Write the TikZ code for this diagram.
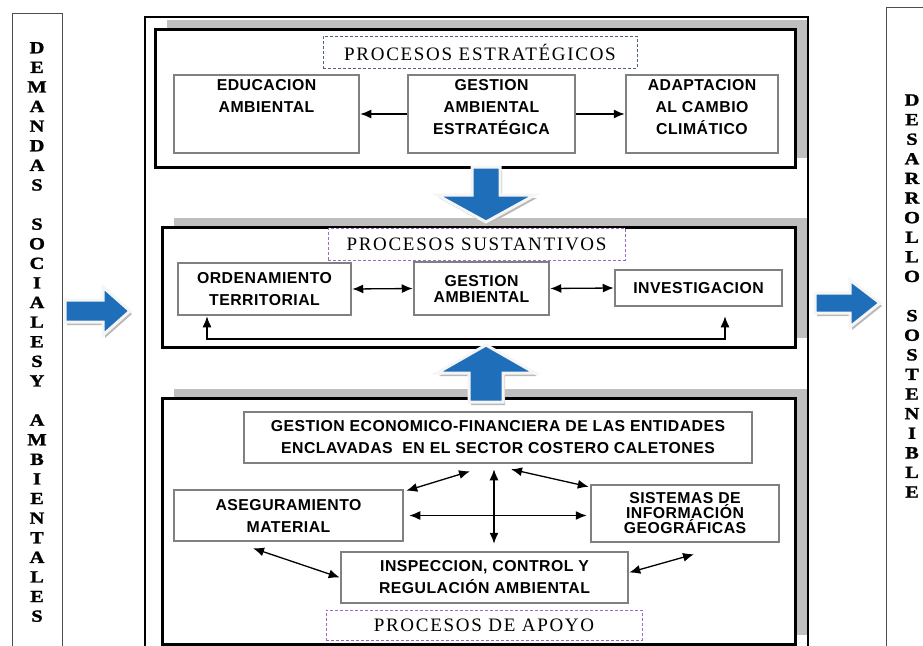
\documentclass[tikz,border=0pt]{standalone}
\usepackage{fontspec}
\setmainfont{Liberation Serif}
\newfontfamily\boxfont{Liberation Sans}[LetterSpace=3]
\newfontfamily\titlefont{Liberation Serif}[LetterSpace=9]
\newfontfamily\sidefont{Liberation Serif Bold}[FakeStretch=1.2, FakeBold=1.5]
\usepackage{tikz}
\usetikzlibrary{arrows.meta, shadows, positioning}

\definecolor{arrowblue}{RGB}{31,110,186}
\definecolor{titleblue}{RGB}{80,96,130}
\definecolor{titlepurple}{RGB}{155,105,200}

\tikzset{
  sect/.style={draw=black, line width=3pt, fill=white, inner sep=0pt,
    drop shadow={shadow xshift=12pt, shadow yshift=9pt, fill=gray!50, opacity=1}},
  pbox/.style={draw=gray, line width=2.5pt, fill=white, inner sep=0pt, align=center,
    font=\boxfont\bfseries\fontsize{15.8}{22}\selectfont},
  ptxt/.style={inner sep=0pt, align=center, font=\boxfont\bfseries\fontsize{15.8}{22}\selectfont},
  ttl/.style={dash pattern=on 3pt off 2pt, line width=1pt, fill=white, inner sep=0pt,
    font=\titlefont\fontsize{19}{22}\selectfont},
  side/.style={inner sep=0pt, align=center, font=\sidefont\fontsize{17}{19.6}\selectfont},
  arr/.style={line width=1.3pt, -{Latex[length=11pt,width=9pt]}},
  dbl/.style={line width=1.3pt, {Latex[length=11pt,width=9pt]}-{Latex[length=11pt,width=9pt]}},
  barrow/.style={fill=arrowblue, draw=gray!8, line width=3pt, line join=miter},
  barrowsh/.style={fill=gray!55}
}

\begin{document}
\begin{tikzpicture}[x=1pt, y=-1pt]
  \useasboundingbox (0,0) rectangle (923,645);

  % marcos
  \draw[line width=2pt] (145,17) rectangle (808,660);
  \draw[line width=0.8pt, gray!60!black] (12,13) rectangle (62,660);
  \draw[line width=0.8pt, gray!60!black] (886,7) rectangle (930,660);

  \node[side] (dem) at (37,332) {D\\E\\M\\A\\N\\D\\A\\S\\~\\S\\O\\C\\I\\A\\L\\E\\S\\Y\\~\\A\\M\\B\\I\\E\\N\\T\\A\\L\\E\\S};
  \node[side] (des) at (912,296) {D\\E\\S\\A\\R\\R\\O\\L\\L\\O\\~\\S\\O\\S\\T\\E\\N\\I\\B\\L\\E};

  % secciones
  \node[sect, minimum width=640pt, minimum height=138pt] (top) at (475,98) {};
  \node[sect, minimum width=633pt, minimum height=120pt] (mid) at (478.5,287) {};
  \node[sect, minimum width=633pt, minimum height=246pt] (bot) at (478.5,521) {};

  % flechas azules
  \begin{scope}[shift={(2,3)}]
    \fill[barrowsh] (472,167) -- (500,167) -- (500,195) -- (535,195) -- (486,222) -- (437,195) -- (472,195) -- cycle;
    \fill[barrowsh] (469,402) -- (503,402) -- (503,373) -- (535,373) -- (486,345) -- (437,373) -- (469,373) -- cycle;
    \fill[barrowsh] (65,300) -- (103,300) -- (103,287) -- (130,311) -- (103,335) -- (103,322) -- (65,322) -- cycle;
    \fill[barrowsh] (815,293) -- (850,293) -- (850,280) -- (880,303) -- (850,327) -- (850,313) -- (815,313) -- cycle;
  \end{scope}
  \draw[barrow] (472,167) -- (500,167) -- (500,195) -- (535,195) -- (486,222) -- (437,195) -- (472,195) -- cycle;
  \draw[barrow] (469,402) -- (503,402) -- (503,373) -- (535,373) -- (486,345) -- (437,373) -- (469,373) -- cycle;
  \draw[barrow] (65,300) -- (103,300) -- (103,287) -- (130,311) -- (103,335) -- (103,322) -- (65,322) -- cycle;
  \draw[barrow] (815,293) -- (850,293) -- (850,280) -- (880,303) -- (850,327) -- (850,313) -- (815,313) -- cycle;

  % procesos estrategicos
  \node[ttl, draw=titleblue, minimum width=314pt, minimum height=32pt] (est) at (480,52) {PROCESOS ESTRATÉGICOS};
  \node[pbox, minimum width=185pt, minimum height=78pt] (edu) at (266.5,114) {};
  \node[pbox, minimum width=167pt, minimum height=78pt] (gae) at (491.5,114) {};
  \node[pbox, minimum width=152pt, minimum height=78pt] (ada) at (702,114) {};
  \node[ptxt, anchor=north] (edut) at ([yshift=-6pt]edu.north) {EDUCACION\\AMBIENTAL};
  \node[ptxt, anchor=north] (gaet) at ([yshift=-6pt]gae.north) {GESTION\\AMBIENTAL\\ESTRATÉGICA};
  \node[ptxt, anchor=north] (adat) at ([yshift=-6pt]ada.north) {ADAPTACION\\AL CAMBIO\\CLIMÁTICO};
  \draw[arr] (gae.west) -- (edu.east);
  \draw[arr] (gae.east) -- (ada.west);

  % procesos sustantivos
  \node[ttl, draw=titlepurple, minimum width=297pt, minimum height=32pt] (sus) at (476.5,244) {PROCESOS SUSTANTIVOS};
  \node[pbox, minimum width=173pt, minimum height=52pt] (ord) at (264.5,289) {ORDENAMIENTO\\TERRITORIAL};
  \node[pbox, minimum width=135pt, minimum height=53pt, font=\boxfont\bfseries\fontsize{15.8}{16}\selectfont] (ges) at (481.5,288.5) {GESTION\\AMBIENTAL};
  \node[pbox, minimum width=167pt, minimum height=36pt] (inv) at (698.5,288) {INVESTIGACION};
  \draw[dbl] (ord.east) -- (ges.west);
  \draw[dbl] (ges.east) -- (inv.west);
  \coordinate (fbl) at (207,339);
  \coordinate (fbr) at (725,339);
  \draw[dbl] (ord.south -| fbl) -- (fbl) -- (fbr) -- ([yshift=-9pt]inv.south -| fbr);

  % procesos de apoyo
  \node[pbox, minimum width=508pt, minimum height=51pt] (gef) at (498,437.5) {GESTION ECONOMICO-FINANCIERA DE LAS ENTIDADES\\ENCLAVADAS\ \ EN EL SECTOR COSTERO CALETONES};
  \node[pbox, minimum width=229pt, minimum height=51pt] (ase) at (288.5,515.5) {ASEGURAMIENTO\\MATERIAL};
  \node[pbox, minimum width=188pt, minimum height=57pt, font=\boxfont\bfseries\fontsize{15.8}{15}\selectfont] (sis) at (685,513.5) {SISTEMAS DE\\INFORMACIÓN\\GEOGRÁFICAS};
  \node[pbox, minimum width=287pt, minimum height=51pt] (ins) at (484.5,577.5) {INSPECCION, CONTROL Y\\REGULACIÓN AMBIENTAL};
  \node[ttl, draw=titlepurple, minimum width=316pt, minimum height=30pt] (apo) at (484,625) {PROCESOS DE APOYO};
  \draw[dbl] ([xshift=2pt,yshift=-2pt]ase.north east) -- ([xshift=-28pt,yshift=-7pt]gef.south);
  \draw[dbl] ([xshift=-4pt,yshift=-5pt]gef.south) -- ([xshift=9.5pt,yshift=7pt]ins.north);
  \draw[dbl] ([xshift=13pt,yshift=-5pt]gef.south) -- ([xshift=-1pt,yshift=-3pt]sis.north west);
  \draw[dbl] ([xshift=5pt]ase.east) -- ([xshift=-3pt]ase.east -| sis.west);
  \draw[dbl] ([xshift=-35.5pt,yshift=-6pt]ase.south) -- (ins.west);
  \draw[dbl] ([yshift=5pt]ins.east) -- ([xshift=9pt,yshift=-11pt]sis.south);
\end{tikzpicture}
\end{document}
